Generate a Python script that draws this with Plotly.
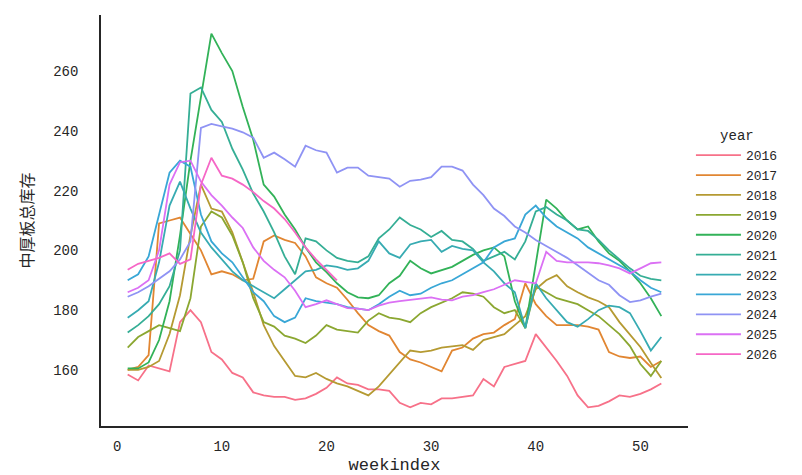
import math
import plotly.graph_objects as go

# ---------------------------------------------------------------------------
# Weekly medium/heavy plate total inventory by year
# ---------------------------------------------------------------------------
weeks = list(range(1, 53))
years = [2016, 2017, 2018, 2019, 2020, 2021, 2022, 2023, 2024, 2025, 2026]

inv_2016 = [158.5, 156.5, 161.5, 160.5, 159.5, 176, 180, 176, 166, 163.5,
            159, 157.5, 152.5, 151.5, 151, 151, 150, 150.5, 152, 154,
            157.5, 155.5, 155, 153.5, 153.5, 153, 149, 147.5, 149, 148.5,
            150.5, 150.5, 151, 151.5, 157, 154.5, 161, 162, 163, 172,
            167.5, 163, 158, 151.5, 147.5, 148, 149.5, 151.5, 151, 152,
            153.5, 155.5]
inv_2017 = [160, 161, 165, 209, 210, 211, 205.5, 200, 192, 193,
            192, 190, 190.5, 203, 205, 203.5, 202.5, 198, 191, 189,
            187.5, 183.5, 179, 175, 173, 171.5, 166, 163.5, 162.5, 161,
            159.5, 166.5, 167.5, 170.5, 172, 172.5, 175, 177, 189, 182,
            178, 175, 175, 175, 174.5, 173.5, 166, 164.5, 164, 164.5,
            161, 163]
inv_2018 = [160, 160, 161, 163, 172, 185, 205, 222, 214, 213,
            206, 196, 186, 175, 168, 163, 158, 157.5, 159, 157,
            155.5, 154.5, 153, 151.5, 154.5, 158.5, 162.5, 166.5, 166, 166.5,
            167.5, 168, 168.3, 166.7, 170, 171, 172, 175, 178, 187,
            190, 191.7, 188, 186, 184.3, 183, 181, 176, 172, 167.7,
            162.3, 157.3]
inv_2019 = [167.5, 171, 173, 175, 174, 173, 184, 208, 213, 211,
            205, 196, 184, 176, 174.5, 171.5, 170.5, 169, 171.5, 175,
            173.5, 173, 172.5, 176.5, 179, 177.5, 177, 176, 179, 181,
            182.5, 184, 186, 185.5, 184.5, 181, 179, 180, 174, 188,
            186, 184, 183, 182, 180, 178, 175, 172, 168, 162,
            158, 163]
inv_2020 = [160.5, 160.5, 162.5, 170, 183, 205, 230, 252, 272.5, 266,
            260, 248, 237, 222, 218, 212, 207, 201, 196, 192.7,
            189, 186, 184.3, 184, 185, 189, 191.5, 196.5, 194, 192.3,
            193.5, 194.5, 196.5, 198.5, 200, 201, 198, 183, 174, 196,
            217, 214, 210, 207, 208, 203, 199, 196.5, 193, 189,
            184, 178]
inv_2021 = [172.5, 175, 178, 182, 188, 200, 252.5, 254.5, 247, 243,
            234, 227, 219, 213, 206, 198, 192, 204, 203, 200,
            197.5, 196.5, 196, 198, 204, 207, 211, 208.5, 207, 204.5,
            206.5, 203.5, 203, 200.5, 196.5, 198, 199.5, 197, 203, 213,
            214.5, 212, 210, 207, 206.5, 203.5, 200, 197, 194, 191.5,
            190.5, 190]
inv_2022 = [177.5, 180, 183, 196, 215, 223, 214, 206, 201, 197,
            193, 190, 188, 186, 184, 187, 190, 193, 193.5, 195,
            194.5, 193.5, 194, 196.5, 203, 199, 197.5, 202, 203, 203.5,
            199.5, 201.5, 200.5, 200, 196, 193, 189, 186, 174, 189,
            184, 180, 176, 174.5, 177, 180, 181.5, 181, 179, 173,
            166.5, 171]
inv_2023 = [190, 192, 198, 212, 226, 230, 228, 212, 203, 199,
            196, 191, 186, 183, 178, 176, 177.5, 184, 183, 182.5,
            182, 181, 180.5, 180, 182, 184.5, 186.5, 185, 185.5, 187.5,
            189, 190, 192, 194, 196, 201, 203, 204, 212, 215,
            211, 208, 206, 204, 201, 199, 197, 195, 193, 190,
            187.5, 186]
inv_2024 = [184.5, 186, 188, 190.5, 193, 197, 203, 241, 242.3, 241.5,
            240.7, 239.5, 237.7, 231, 232.7, 230.5, 228, 235, 233.5, 232.7,
            226, 227.7, 227.7, 225, 224.5, 224, 221.3, 223.3, 223.7, 224.5,
            228, 228, 226.7, 222, 218.5, 214, 211.5, 208, 206, 203.5,
            201.5, 199.5, 197.5, 195, 192.5, 190, 188.5, 185, 182.7, 183.3,
            184.5, 185.5]
inv_2025 = [186, 187.5, 190, 200, 222, 229.5, 230, 223, 218.5, 215,
            211, 207.5, 201, 196.5, 193.5, 191, 186.5, 181, 182, 183.3,
            182, 180.7, 180.5, 180, 181.5, 182.5, 183, 183.5, 184, 184.3,
            183.5, 183.3, 184.5, 185, 186, 187, 188.5, 190, 189.5, 189,
            199.5, 196.5, 196, 196, 196, 195.7, 195, 194, 192.3, 194,
            195.7, 196]
inv_2026 = [193.5, 195.5, 196.5, 197.5, 199, 195.5, 197, 222, 231, 225,
            224, 222, 219.5, 216.5, 214, 210.5, 206, 201, 197, 193.5,
            190]

inventory = [inv_2016, inv_2017, inv_2018, inv_2019, inv_2020, inv_2021,
             inv_2022, inv_2023, inv_2024, inv_2025, inv_2026]

x_ticks = [0, 10, 20, 30, 40, 50]
y_ticks = [160, 180, 200, 220, 240, 260]

# ---------------------------------------------------------------------------
# HUSL -> sRGB (the husl.py routines behind seaborn's "husl" palette)
# ---------------------------------------------------------------------------
_M = [[3.2406, -1.5372, -0.4986],
      [-0.9689, 1.8758, 0.0415],
      [0.0557, -0.2040, 1.0570]]
_REF_U, _REF_V, _LAB_E, _LAB_K = 0.19784, 0.46834, 0.008856, 903.3


def _max_chroma(L, H):
    hrad = math.radians(H)
    sin_h, cos_h = math.sin(hrad), math.cos(hrad)
    sub1 = (L + 16) ** 3 / 1560896.0
    sub2 = sub1 if sub1 > 0.008856 else L / 903.3
    result = float("inf")
    for m1, m2, m3 in _M:
        top = (0.99915 * m1 + 1.05122 * m2 + 1.14460 * m3) * sub2
        rbottom = 0.86330 * m3 - 0.17266 * m2
        lbottom = 0.12949 * m3 - 0.38848 * m1
        bottom = (rbottom * sin_h + lbottom * cos_h) * sub2
        for t in (0.0, 1.0):
            c = L * (top - 1.05122 * t) / (bottom + 0.17266 * sin_h * t)
            if 0.0 < c < result:
                result = c
    return result


def _f_inv(t):
    return t ** 3 if t ** 3 > _LAB_E else (116.0 * t - 16.0) / _LAB_K


def _from_linear(c):
    return 12.92 * c if c <= 0.0031308 else 1.055 * c ** (1 / 2.4) - 0.055


def husl_to_hex(h, s, l):
    c = _max_chroma(l, h) / 100.0 * s
    u = math.cos(math.radians(h)) * c
    v = math.sin(math.radians(h)) * c
    var_y = _f_inv((l + 16.0) / 116.0)
    var_u = u / (13.0 * l) + _REF_U
    var_v = v / (13.0 * l) + _REF_V
    y = var_y
    x = -(9.0 * y * var_u) / ((var_u - 4.0) * var_v - var_u * var_v)
    z = (9.0 * y - 15.0 * var_v * y - var_v * x) / (3.0 * var_v)
    rgb = [_from_linear(r[0] * x + r[1] * y + r[2] * z) for r in _M]
    rgb = [min(max(ch, 0.0), 1.0) for ch in rgb]
    return "#" + "".join(f"{round(ch * 255):02x}" for ch in rgb)


def husl_palette(n, h=0.01, s=0.9, l=0.65):
    hues = [((i / n + h) % 1) * 359 for i in range(n)]
    return [husl_to_hex(hh, s * 99, l * 99) for hh in hues]


colors = husl_palette(len(years))

# ---------------------------------------------------------------------------
# Figure
# ---------------------------------------------------------------------------
TEXT = "#262626"
MONO = "Liberation Mono, DejaVu Sans Mono, monospace"

fig = go.Figure()
for yr, vals, col in zip(years, inventory, colors):
    fig.add_trace(go.Scatter(
        x=weeks[:len(vals)], y=vals, mode="lines", name=str(yr),
        line=dict(color=col, width=1.8),
    ))

fig.update_layout(
    width=802, height=475, autosize=False,
    paper_bgcolor="white", plot_bgcolor="white",
    margin=dict(l=101, r=114, t=15, b=49),
    font=dict(family=MONO, size=13, color=TEXT),
    showlegend=True,
    legend=dict(
        title=dict(text="year", side="top center",
                   font=dict(family=MONO, size=14, color=TEXT)),
        font=dict(family=MONO, size=13, color=TEXT),
        x=1.005, xanchor="left", y=0.438, yanchor="middle",
        itemwidth=45, bgcolor="rgba(0,0,0,0)", borderwidth=0,
    ),
    xaxis=dict(
        range=[-1.55, 54.55], tickvals=x_ticks, automargin=False,
        showline=True, linecolor=TEXT, linewidth=1.5, mirror=False,
        showgrid=False, zeroline=False, ticks="", ticklabelstandoff=6,
        tickfont=dict(family=MONO, size=14, color=TEXT),
        title=dict(text="weekindex", standoff=10,
                   font=dict(family=MONO, size=17, color=TEXT)),
    ),
    yaxis=dict(
        range=[141.25, 278.75], tickvals=y_ticks, automargin=False,
        showline=True, linecolor=TEXT, linewidth=1.5, mirror=False,
        showgrid=False, zeroline=False, ticks="", ticklabelstandoff=18,
        tickfont=dict(family=MONO, size=14, color=TEXT),
        title=dict(text="中厚板总库存", standoff=16,
                   font=dict(family="Noto Sans CJK SC", size=16, color=TEXT)),
    ),
)

fig.write_html("out.html")
